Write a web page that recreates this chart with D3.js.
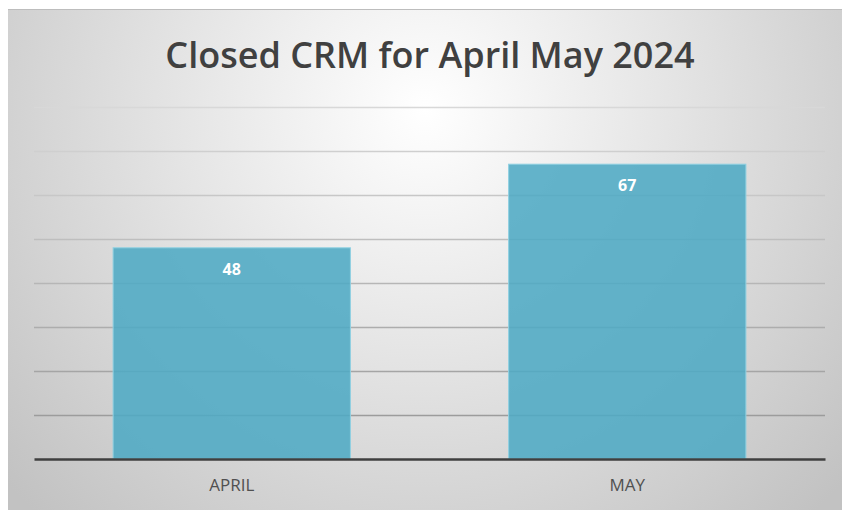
<!DOCTYPE html>
<html>
<head>
<meta charset="utf-8">
<script src="https://cdn.jsdelivr.net/npm/d3@7"></script>
<style>
  html, body { margin: 0; padding: 0; background: #fff; }
  svg { display: block; }
</style>
</head>
<body>
<svg id="chart" width="842" height="510"></svg>
<script>
const title = "Closed CRM for April May 2024";
const categories = ["APRIL", "MAY"];
const values = [48, 67];
const yTicks = [0, 10, 20, 30, 40, 50, 60, 70, 80];

const svg = d3.select("#chart");
const W = 842, H = 510;

const margin = { left: 34, right: 17, top: 107, bottom: 51 };
const x = d3.scaleBand()
  .domain(categories)
  .range([margin.left, W - margin.right])
  .paddingInner(0.4)
  .paddingOuter(0.2);
const y = d3.scaleLinear()
  .domain([0, 80])
  .range([H - margin.bottom, margin.top]);

// Chart area with soft radial backdrop
const defs = svg.append("defs");
const grad = defs.append("radialGradient")
  .attr("id", "bg")
  .attr("gradientUnits", "userSpaceOnUse")
  .attr("cx", 425).attr("cy", 110).attr("r", 560);
grad.append("stop").attr("offset", "0%").attr("stop-color", "#ffffff");
grad.append("stop").attr("offset", "45%").attr("stop-color", "#e4e4e4");
grad.append("stop").attr("offset", "100%").attr("stop-color", "#c2c2c2");

svg.append("rect")
  .attr("x", 8).attr("y", 9).attr("width", W - 8).attr("height", H - 9)
  .attr("fill", "url(#bg)");
svg.append("line")
  .attr("x1", 8).attr("x2", W).attr("y1", 9.5).attr("y2", 9.5)
  .attr("stroke", "#bdbdbd").attr("stroke-width", 1);

// Gridline tone darkens from the top of the scale toward the baseline
const gridTone = d3.scaleLinear()
  .domain([80, 10])
  .range(["#d8d8d8", "#9c9c9c"]);

// Horizontal gridlines
svg.append("g")
  .attr("transform", `translate(${margin.left},0)`)
  .call(d3.axisLeft(y).tickValues(yTicks.slice(1)).tickSize(-(W - margin.left - margin.right)).tickFormat(""))
  .call(g => g.select(".domain").remove())
  .call(g => g.selectAll(".tick line")
    .attr("stroke", d => gridTone(d))
    .attr("stroke-width", 1.5));

// Bars
svg.append("g").selectAll("rect")
  .data(values)
  .join("rect")
  .attr("x", (d, i) => x(categories[i]))
  .attr("y", d => y(d))
  .attr("width", x.bandwidth())
  .attr("height", d => y(0) - y(d))
  .attr("fill", "#4eaac4")
  .attr("fill-opacity", 0.88)
  .attr("stroke", "#8fd0e2")
  .attr("stroke-width", 1);

// Value labels inside bar tops
svg.append("g").selectAll("text")
  .data(values)
  .join("text")
  .attr("x", (d, i) => x(categories[i]) + x.bandwidth() / 2)
  .attr("y", d => y(d) + 27)
  .attr("text-anchor", "middle")
  .attr("font-family", "'Open Sans', sans-serif")
  .attr("font-weight", 700)
  .attr("font-size", 16)
  .attr("fill", "#ffffff")
  .text(d => d);

// Category axis
const xAxis = svg.append("g")
  .attr("transform", `translate(0,${y(0)})`)
  .call(d3.axisBottom(x).tickSize(0).tickPadding(20));
xAxis.select(".domain").attr("stroke", "#3f3f3f").attr("stroke-width", 2.5);
xAxis.selectAll(".tick text")
  .attr("font-family", "'Open Sans', sans-serif")
  .attr("font-size", 17)
  .attr("fill", "#505050");

// Title
svg.append("text")
  .attr("x", 430)
  .attr("y", 68)
  .attr("text-anchor", "middle")
  .attr("font-family", "'Open Sans', sans-serif")
  .attr("font-weight", 600)
  .attr("font-size", 36)
  .attr("fill", "#404040")
  .text(title);
</script>
</body>
</html>
